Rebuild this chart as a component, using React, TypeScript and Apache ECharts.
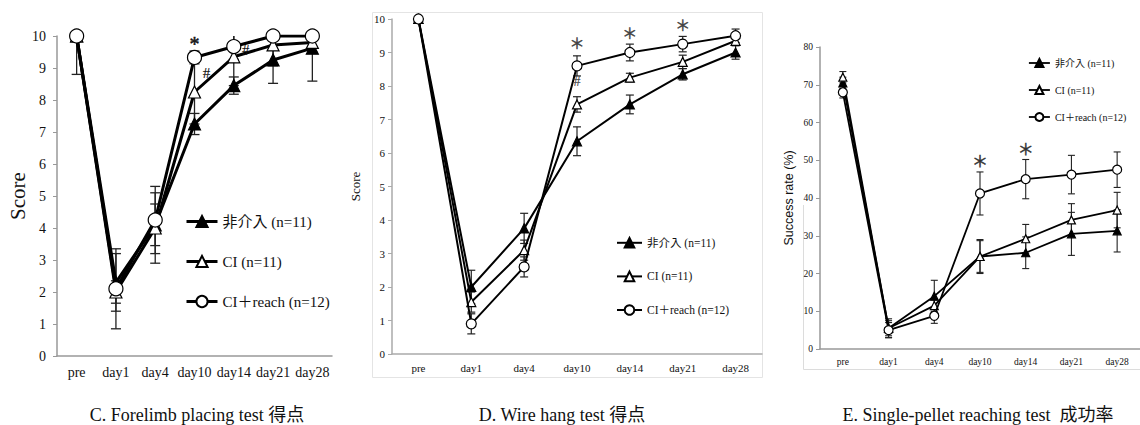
import React, { useEffect, useRef } from "react";
import * as echarts from "echarts";

const categories = ["pre", "day1", "day4", "day10", "day14", "day21", "day28"];
const groupNames = ["非介入 (n=11)", "CI (n=11)", "CI＋reach (n=12)"];

// C. Forelimb placing test (score)
const forelimbNonInt = [10, 2.3, 4.1, 7.25, 8.45, 9.25, 9.62];
const forelimbCI = [10, 2.0, 4.0, 8.25, 9.35, 9.72, 9.8];
const forelimbReach = [10, 2.1, 4.25, 9.33, 9.67, 10, 10];
const forelimbNonIntErr = [1.2, 0.9, 0.65, 0.33, 0.27, 0.73, 1.03];
const forelimbCIErr = [0, 0.35, 1.1, 1.0, 0.9, 0.65, 0.3];
const forelimbReachErr = [0, 1.25, 1.05, 0.2, 0.4, 0, 0];
const forelimbMarks: [number, number, string][] = [[3, 9.75, "*"], [3, 8.85, "#"], [4, 9.56, "#"]];

// D. Wire hang test (score)
const wireNonInt = [10, 2.0, 3.75, 6.35, 7.45, 8.35, 9.0];
const wireCI = [10, 1.55, 3.1, 7.45, 8.25, 8.72, 9.35];
const wireReach = [10, 0.9, 2.6, 8.6, 9.0, 9.25, 9.5];
const wireNonIntErr = [0, 0.5, 0.45, 0.43, 0.28, 0.17, 0.2];
const wireCIErr = [0, 0.3, 0.3, 0.23, 0.13, 0.2, 0.12];
const wireReachErr = [0, 0.3, 0.3, 0.3, 0.25, 0.23, 0.2];
const wireMarks: [number, number, string][] = [[3, 9.3, "＊"], [4, 9.6, "＊"], [5, 9.85, "＊"], [3, 8.13, "#"]];

// E. Single-pellet reaching test (success rate %)
const reachNonInt = [70.5, 5.5, 14, 24.5, 25.5, 30.5, 31.3];
const reachCI = [72, 5.5, 11.5, 24.5, 29.2, 34.2, 36.8];
const reachReach = [68, 5, 8.8, 41.2, 45, 46.2, 47.5];
const reachNonIntErr = [1.5, 2.5, 4.2, 4.2, 4.2, 5.7, 5.6];
const reachCIErr = [1.5, 2, 1.5, 4.5, 3.8, 4.3, 4.7];
const reachReachErr = [1.5, 2, 2, 5.7, 5.2, 5.1, 4.7];
const reachMarks: [number, number, string][] = [[3, 50, "＊"], [4, 53.3, "＊"]];

const SERIF = "'Liberation Serif', 'Times New Roman', 'Noto Sans CJK JP', serif";
const SANS = "'Liberation Sans', Arial, 'Noto Sans CJK JP', sans-serif";

type Panel = {
  grid: { left: number; top: number; width: number; height: number };
  yMax: number;
  yInterval: number;
  values: number[][];
  errors: number[][];
  marks: [number, number, string][];
  lineWidth: number;
  triSize: number;
  circSize: number;
  cap: number;
  errWidth: number;
  axisColor: string;
  labelFont: number;
  xMargin: number;
  yMargin: number;
  yName: string;
  nameFont: number;
  nameFamily: string;
  nameGap: number;
  markFont: string;
  hashFont: string;
  markColor: string;
  hashDx: number;
  legend: { left: number; top: number; itemWidth: number; itemHeight: number; itemGap: number; fontSize: number; lineWidth: number };
};

const panels: Panel[] = [
  {
    grid: { left: 57, top: 36, width: 275, height: 320 },
    yMax: 10, yInterval: 1,
    values: [forelimbNonInt, forelimbCI, forelimbReach],
    errors: [forelimbNonIntErr, forelimbCIErr, forelimbReachErr],
    marks: forelimbMarks,
    lineWidth: 3, triSize: 12, circSize: 14, cap: 5, errWidth: 1.3,
    axisColor: "#999", labelFont: 14, xMargin: 9, yMargin: 11,
    yName: "Score", nameFont: 21, nameFamily: SERIF, nameGap: 28,
    markFont: `20px ${SERIF}`, hashFont: `15px ${SERIF}`, markColor: "#111", hashDx: 12,
    legend: { left: 185, top: 214, itemWidth: 31, itemHeight: 14, itemGap: 25, fontSize: 15, lineWidth: 3 },
  },
  {
    grid: { left: 392, top: 19, width: 370, height: 335 },
    yMax: 10, yInterval: 1,
    values: [wireNonInt, wireCI, wireReach],
    errors: [wireNonIntErr, wireCIErr, wireReachErr],
    marks: wireMarks,
    lineWidth: 2, triSize: 9, circSize: 10, cap: 4, errWidth: 1.2,
    axisColor: "#aaa", labelFont: 11, xMargin: 8, yMargin: 7,
    yName: "Score", nameFont: 13, nameFamily: SERIF, nameGap: 30,
    markFont: `15px 'Noto Sans CJK JP', sans-serif`, hashFont: `14px ${SERIF}`, markColor: "#444", hashDx: 0,
    legend: { left: 616, top: 237, itemWidth: 25, itemHeight: 12, itemGap: 22, fontSize: 11.5, lineWidth: 2 },
  },
  {
    grid: { left: 820, top: 47, width: 320, height: 302 },
    yMax: 80, yInterval: 10,
    values: [reachNonInt, reachCI, reachReach],
    errors: [reachNonIntErr, reachCIErr, reachReachErr],
    marks: reachMarks,
    lineWidth: 1.8, triSize: 8, circSize: 9, cap: 3.5, errWidth: 1.1,
    axisColor: "#999", labelFont: 9.5, xMargin: 8, yMargin: 7,
    yName: "Success rate (%)", nameFont: 12.5, nameFamily: SANS, nameGap: 25,
    markFont: `16px 'Noto Sans CJK JP', sans-serif`, hashFont: `13px ${SERIF}`, markColor: "#333", hashDx: 0,
    legend: { left: 1028, top: 58, itemWidth: 21, itemHeight: 10, itemGap: 17, fontSize: 10, lineWidth: 1.8 },
  },
];

function buildOption() {
  const grid: any[] = [];
  const xAxis: any[] = [];
  const yAxis: any[] = [];
  const series: any[] = [];
  const legend: any[] = [];

  panels.forEach((p, pi) => {
    grid.push({ ...p.grid, containLabel: false });
    xAxis.push({
      gridIndex: pi, type: "category", data: categories, boundaryGap: true,
      axisLine: { show: true, lineStyle: { color: p.axisColor, width: 1.5 } },
      axisTick: { show: false },
      axisLabel: { interval: 0, fontSize: p.labelFont, fontFamily: SERIF, color: "#111", margin: p.xMargin },
      splitLine: { show: false },
    });
    yAxis.push({
      gridIndex: pi, type: "value", min: 0, max: p.yMax, interval: p.yInterval,
      axisLine: { show: true, lineStyle: { color: p.axisColor, width: 1.5 } },
      axisTick: { show: true, length: 4, lineStyle: { color: p.axisColor } },
      axisLabel: { fontSize: p.labelFont, fontFamily: SERIF, color: "#111", margin: p.yMargin },
      splitLine: { show: false },
      name: p.yName, nameLocation: "middle", nameGap: p.nameGap,
      nameTextStyle: { fontSize: p.nameFont, fontFamily: p.nameFamily, color: "#111" },
    });

    // error bars
    p.values.forEach((vals, si) => {
      const errs = p.errors[si];
      series.push({
        type: "custom", xAxisIndex: pi, yAxisIndex: pi, silent: true, clip: true, z: 1,
        encode: { x: 0, y: [1, 2] },
        itemStyle: { color: "#222" },
        data: vals.map((v, i) => [i, v - errs[i], Math.min(v + errs[i], p.yMax + 0.05 * p.yInterval)]),
        renderItem: (params: any, api: any) => {
          const e = errs[params.dataIndex];
          if (!e) return { type: "group", children: [] };
          const lo = api.coord([api.value(0), api.value(1)]);
          const hi = api.coord([api.value(0), api.value(2)]);
          const x = lo[0];
          const st = { stroke: "#222", lineWidth: p.errWidth };
          const children: any[] = [
            { type: "line", shape: { x1: x, y1: lo[1], x2: x, y2: hi[1] }, style: st },
            { type: "line", shape: { x1: x - p.cap, y1: lo[1], x2: x + p.cap, y2: lo[1] }, style: st },
          ];
          if (vals[params.dataIndex] + e <= p.yMax) {
            children.push({ type: "line", shape: { x1: x - p.cap, y1: hi[1], x2: x + p.cap, y2: hi[1] }, style: st });
          }
          return { type: "group", children };
        },
      });
    });

    // lines
    const symbols = ["triangle", "triangle", "circle"];
    const fills = ["#000", "#fff", "#fff"];
    p.values.forEach((vals, si) => {
      series.push({
        type: "line", name: groupNames[si], xAxisIndex: pi, yAxisIndex: pi, data: vals,
        symbol: symbols[si], symbolSize: si === 2 ? p.circSize : p.triSize, showAllSymbol: true,
        lineStyle: { color: "#000", width: p.lineWidth },
        itemStyle: { color: fills[si], borderColor: "#000", borderWidth: 1.2 },
        z: 3 + si,
      });
    });

    // significance marks
    series.push({
      type: "custom", xAxisIndex: pi, yAxisIndex: pi, silent: true, z: 10,
      encode: { x: 0, y: 1 },
      itemStyle: { color: p.markColor },
      data: p.marks.map((m) => [m[0], m[1]]),
      renderItem: (params: any, api: any) => {
        const m = p.marks[params.dataIndex];
        const pt = api.coord([api.value(0), api.value(1)]);
        const isHash = m[2] === "#";
        return {
          type: "text", x: pt[0] + (isHash ? p.hashDx : 0), y: pt[1],
          style: {
            text: m[2], font: isHash ? p.hashFont : p.markFont,
            fill: p.markColor, stroke: p.markColor, lineWidth: isHash ? 0.15 : 0.5,
            align: "center", verticalAlign: "middle",
          },
        };
      },
    });

    legend.push({
      orient: "vertical", left: p.legend.left, top: p.legend.top, padding: 0,
      itemWidth: p.legend.itemWidth, itemHeight: p.legend.itemHeight, itemGap: p.legend.itemGap,
      data: groupNames, selectedMode: false,
      lineStyle: { width: p.legend.lineWidth },
      textStyle: { fontSize: p.legend.fontSize, fontFamily: SERIF, color: "#111" },
    });
  });

  const titleStyle = (text: string, x: number) => ({
    type: "text", x, y: 415,
    style: { text, font: `18px ${SERIF}`, fill: "#111", align: "center", verticalAlign: "middle" },
  });

  return {
    animation: false,
    backgroundColor: "#fff",
    grid, xAxis, yAxis, series, legend,
    graphic: [
      { type: "rect", shape: { x: 372.5, y: 12.5, width: 390, height: 365 }, style: { fill: "none", stroke: "#e4e4e4", lineWidth: 1 }, z: -1 },
      { type: "polyline", shape: { points: [[803.5, 205], [803.5, 369.5], [1140, 369.5]] }, style: { fill: "none", stroke: "#dcdcdc", lineWidth: 1 }, z: -1 },
      titleStyle("C. Forelimb placing test 得点", 197),
      titleStyle("D. Wire hang test 得点", 562),
      titleStyle("E. Single-pellet reaching test  成功率", 978),
    ],
  };
}

export default function App() {
  const ref = useRef<HTMLDivElement>(null);
  useEffect(() => {
    document.body.style.margin = "0";
    const chart = echarts.init(ref.current as HTMLDivElement, null, { renderer: "svg" });
    chart.setOption(buildOption() as any);
    return () => chart.dispose();
  }, []);
  return <div ref={ref} style={{ width: 1140, height: 425 }} />;
}
